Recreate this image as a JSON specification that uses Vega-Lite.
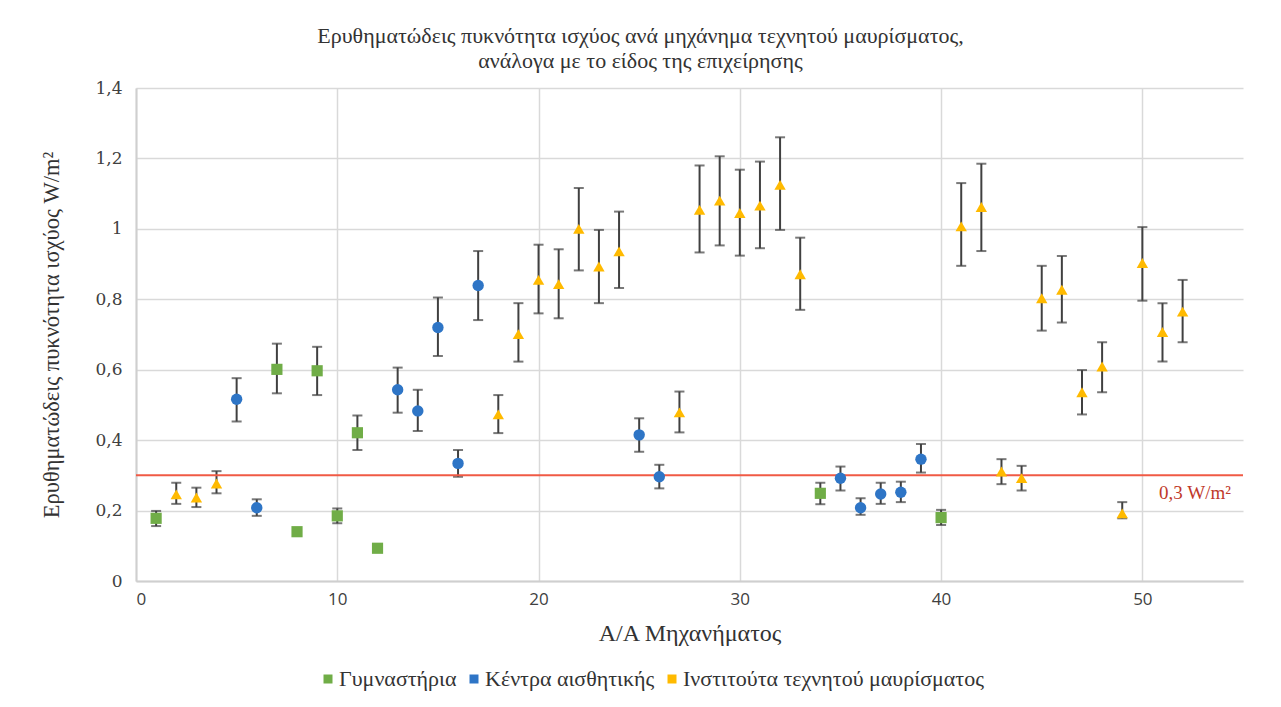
{
  "$schema": "https://vega.github.io/schema/vega-lite/v6.json",
  "autosize": "none",
  "width": 1107,
  "height": 493,
  "padding": {"left": 136, "top": 88, "right": 38, "bottom": 126},
  "background": "white",
  "title": {
    "text": ["Ερυθηματώδεις πυκνότητα ισχύος ανά μηχάνημα τεχνητού μαυρίσματος,", "ανάλογα με το είδος της επιχείρησης"],
    "font": "Liberation Serif",
    "fontSize": 22,
    "fontWeight": "normal",
    "color": "#333333",
    "lineHeight": 25,
    "anchor": "middle",
    "dx": -49,
    "offset": 6
  },
  "datasets": {
    "pts": [
      {"n": 1, "type": "Γυμναστήρια", "value": 0.178, "lo": 0.156, "hi": 0.199},
      {"n": 2, "type": "Ινστιτούτα τεχνητού μαυρίσματος", "value": 0.246, "lo": 0.219, "hi": 0.279},
      {"n": 3, "type": "Ινστιτούτα τεχνητού μαυρίσματος", "value": 0.237, "lo": 0.21, "hi": 0.265},
      {"n": 4, "type": "Ινστιτούτα τεχνητού μαυρίσματος", "value": 0.277, "lo": 0.249, "hi": 0.312},
      {"n": 5, "type": "Κέντρα αισθητικής", "value": 0.516, "lo": 0.453, "hi": 0.576},
      {"n": 6, "type": "Κέντρα αισθητικής", "value": 0.208, "lo": 0.185, "hi": 0.232},
      {"n": 7, "type": "Γυμναστήρια", "value": 0.601, "lo": 0.533, "hi": 0.674},
      {"n": 8, "type": "Γυμναστήρια", "value": 0.14, "lo": 0.131, "hi": 0.149},
      {"n": 9, "type": "Γυμναστήρια", "value": 0.597, "lo": 0.528, "hi": 0.665},
      {"n": 10, "type": "Γυμναστήρια", "value": 0.185, "lo": 0.164, "hi": 0.206},
      {"n": 11, "type": "Γυμναστήρια", "value": 0.421, "lo": 0.372, "hi": 0.47},
      {"n": 12, "type": "Γυμναστήρια", "value": 0.093, "lo": 0.087, "hi": 0.099},
      {"n": 13, "type": "Κέντρα αισθητικής", "value": 0.543, "lo": 0.478, "hi": 0.606},
      {"n": 14, "type": "Κέντρα αισθητικής", "value": 0.483, "lo": 0.426, "hi": 0.543},
      {"n": 15, "type": "Κέντρα αισθητικής", "value": 0.72, "lo": 0.639, "hi": 0.805},
      {"n": 16, "type": "Κέντρα αισθητικής", "value": 0.334, "lo": 0.296, "hi": 0.372},
      {"n": 17, "type": "Κέντρα αισθητικής", "value": 0.839, "lo": 0.741, "hi": 0.937},
      {"n": 18, "type": "Ινστιτούτα τεχνητού μαυρίσματος", "value": 0.473, "lo": 0.42, "hi": 0.528},
      {"n": 19, "type": "Ινστιτούτα τεχνητού μαυρίσματος", "value": 0.701, "lo": 0.623, "hi": 0.789},
      {"n": 20, "type": "Ινστιτούτα τεχνητού μαυρίσματος", "value": 0.855, "lo": 0.76, "hi": 0.955},
      {"n": 21, "type": "Ινστιτούτα τεχνητού μαυρίσματος", "value": 0.843, "lo": 0.746, "hi": 0.942},
      {"n": 22, "type": "Ινστιτούτα τεχνητού μαυρίσματος", "value": 1.0, "lo": 0.882, "hi": 1.116},
      {"n": 23, "type": "Ινστιτούτα τεχνητού μαυρίσματος", "value": 0.893, "lo": 0.789, "hi": 0.997},
      {"n": 24, "type": "Ινστιτούτα τεχνητού μαυρίσματος", "value": 0.936, "lo": 0.832, "hi": 1.049},
      {"n": 25, "type": "Κέντρα αισθητικής", "value": 0.415, "lo": 0.367, "hi": 0.462},
      {"n": 26, "type": "Κέντρα αισθητικής", "value": 0.296, "lo": 0.263, "hi": 0.33},
      {"n": 27, "type": "Ινστιτούτα τεχνητού μαυρίσματος", "value": 0.479, "lo": 0.422, "hi": 0.538},
      {"n": 28, "type": "Ινστιτούτα τεχνητού μαυρίσματος", "value": 1.054, "lo": 0.933, "hi": 1.18},
      {"n": 29, "type": "Ινστιτούτα τεχνητού μαυρίσματος", "value": 1.08, "lo": 0.953, "hi": 1.206},
      {"n": 30, "type": "Ινστιτούτα τεχνητού μαυρίσματος", "value": 1.045, "lo": 0.924, "hi": 1.168},
      {"n": 31, "type": "Ινστιτούτα τεχνητού μαυρίσματος", "value": 1.066, "lo": 0.945, "hi": 1.191},
      {"n": 32, "type": "Ινστιτούτα τεχνητού μαυρίσματος", "value": 1.125, "lo": 0.997, "hi": 1.26},
      {"n": 33, "type": "Ινστιτούτα τεχνητού μαυρίσματος", "value": 0.871, "lo": 0.77, "hi": 0.975},
      {"n": 34, "type": "Γυμναστήρια", "value": 0.249, "lo": 0.218, "hi": 0.279},
      {"n": 35, "type": "Κέντρα αισθητικής", "value": 0.292, "lo": 0.257, "hi": 0.325},
      {"n": 36, "type": "Κέντρα αισθητικής", "value": 0.208, "lo": 0.188, "hi": 0.235},
      {"n": 37, "type": "Κέντρα αισθητικής", "value": 0.247, "lo": 0.219, "hi": 0.279},
      {"n": 38, "type": "Κέντρα αισθητικής", "value": 0.252, "lo": 0.224, "hi": 0.282},
      {"n": 39, "type": "Κέντρα αισθητικής", "value": 0.346, "lo": 0.308, "hi": 0.389},
      {"n": 40, "type": "Γυμναστήρια", "value": 0.18, "lo": 0.159, "hi": 0.202},
      {"n": 41, "type": "Ινστιτούτα τεχνητού μαυρίσματος", "value": 1.007, "lo": 0.895, "hi": 1.13},
      {"n": 42, "type": "Ινστιτούτα τεχνητού μαυρίσματος", "value": 1.062, "lo": 0.937, "hi": 1.185},
      {"n": 43, "type": "Ινστιτούτα τεχνητού μαυρίσματος", "value": 0.311, "lo": 0.275, "hi": 0.346},
      {"n": 44, "type": "Ινστιτούτα τεχνητού μαυρίσματος", "value": 0.292, "lo": 0.257, "hi": 0.327},
      {"n": 45, "type": "Ινστιτούτα τεχνητού μαυρίσματος", "value": 0.803, "lo": 0.711, "hi": 0.895},
      {"n": 46, "type": "Ινστιτούτα τεχνητού μαυρίσματος", "value": 0.827, "lo": 0.734, "hi": 0.923},
      {"n": 47, "type": "Ινστιτούτα τεχνητού μαυρίσματος", "value": 0.536, "lo": 0.473, "hi": 0.599},
      {"n": 48, "type": "Ινστιτούτα τεχνητού μαυρίσματος", "value": 0.609, "lo": 0.536, "hi": 0.678},
      {"n": 49, "type": "Ινστιτούτα τεχνητού μαυρίσματος", "value": 0.192, "lo": 0.178, "hi": 0.224},
      {"n": 50, "type": "Ινστιτούτα τεχνητού μαυρίσματος", "value": 0.903, "lo": 0.796, "hi": 1.005},
      {"n": 51, "type": "Ινστιτούτα τεχνητού μαυρίσματος", "value": 0.707, "lo": 0.623, "hi": 0.789},
      {"n": 52, "type": "Ινστιτούτα τεχνητού μαυρίσματος", "value": 0.765, "lo": 0.678, "hi": 0.855}
    ],
    "limit": [{"limit": 0.3, "label": "0,3 W/m²", "pos": 54.4}]
  },
  "config": {
    "view": {"stroke": null},
    "axis": {
      "gridColor": "#d9d9d9",
      "gridWidth": 1.5,
      "domainColor": "#cfcfcf",
      "domainWidth": 2,
      "ticks": false,
      "labelColor": "#404040",
      "titleColor": "#333333",
      "titleFontWeight": "normal"
    },
    "legend": {
      "title": null,
      "orient": "none",
      "legendX": 181,
      "legendY": 580,
      "direction": "horizontal",
      "columns": 3,
      "symbolType": "square",
      "symbolSize": 81,
      "symbolOpacity": 1,
      "labelFont": "Liberation Serif",
      "labelFontSize": 22,
      "labelColor": "#333333",
      "columnPadding": 6,
      "labelOffset": 0,
      "labelLimit": 500
    }
  },
  "layer": [
    {
      "data": {"name": "pts"},
      "mark": {"type": "errorbar", "color": "#404040", "thickness": 2, "ticks": {"size": 10, "thickness": 2, "color": "#404040"}},
      "encoding": {
        "x": {
          "field": "n", "type": "quantitative",
          "scale": {"domain": [0, 55], "nice": false},
          "axis": {
            "values": [0, 10, 20, 30, 40, 50],
            "title": "Α/Α Μηχανήματος",
            "titleFont": "Liberation Serif",
            "titleFontSize": 24,
            "titlePadding": 14,
            "labelFont": "Open Sans",
            "labelFontSize": 17,
            "labelPadding": 10,
            "grid": true
          }
        },
        "y": {
          "field": "lo", "type": "quantitative",
          "scale": {"domain": [0, 1.4], "nice": false},
          "axis": {
            "values": [0, 0.2, 0.4, 0.6, 0.8, 1, 1.2, 1.4],
            "labelExpr": "replace(toString(datum.value), '.', ',')",
            "title": "Ερυθηματώδεις πυκνότητα ισχύος W/m²",
            "titleFont": "Liberation Serif",
            "titleFontSize": 22.5,
            "titlePadding": 31,
            "labelFont": "DejaVu Serif",
            "labelFontSize": 17,
            "labelPadding": 14,
            "grid": true
          }
        },
        "y2": {"field": "hi"}
      }
    },
    {
      "data": {"name": "limit"},
      "mark": {"type": "rule", "color": "#f05a45", "strokeWidth": 2},
      "encoding": {"y": {"field": "limit", "type": "quantitative"}}
    },
    {
      "data": {"name": "limit"},
      "mark": {"type": "text", "align": "right", "baseline": "middle", "dy": 18, "font": "Liberation Serif", "fontSize": 19, "color": "#c0392b"},
      "encoding": {
        "x": {"field": "pos", "type": "quantitative"},
        "y": {"field": "limit", "type": "quantitative"},
        "text": {"field": "label"}
      }
    },
    {
      "data": {"name": "pts"},
      "transform": [{"filter": "datum.type === 'Γυμναστήρια'"}],
      "mark": {"type": "point", "filled": true, "opacity": 1, "size": 125, "shape": "square"},
      "encoding": {
        "x": {"field": "n", "type": "quantitative"},
        "y": {"field": "value", "type": "quantitative"},
        "color": {
          "field": "type", "type": "nominal",
          "scale": {
            "domain": ["Γυμναστήρια", "Κέντρα αισθητικής", "Ινστιτούτα τεχνητού μαυρίσματος"],
            "range": ["#70ad47", "#2e75c6", "#ffba00"]
          }
        }
      }
    },
    {
      "data": {"name": "pts"},
      "transform": [{"filter": "datum.type === 'Κέντρα αισθητικής'"}],
      "mark": {"type": "point", "filled": true, "opacity": 1, "size": 130, "shape": "circle"},
      "encoding": {
        "x": {"field": "n", "type": "quantitative"},
        "y": {"field": "value", "type": "quantitative"},
        "color": {"field": "type", "type": "nominal"}
      }
    },
    {
      "data": {"name": "pts"},
      "transform": [{"filter": "datum.type === 'Ινστιτούτα τεχνητού μαυρίσματος'"}],
      "mark": {"type": "point", "filled": true, "opacity": 1, "size": 130, "shape": "triangle-up"},
      "encoding": {
        "x": {"field": "n", "type": "quantitative"},
        "y": {"field": "value", "type": "quantitative"},
        "color": {"field": "type", "type": "nominal"}
      }
    }
  ]
}
